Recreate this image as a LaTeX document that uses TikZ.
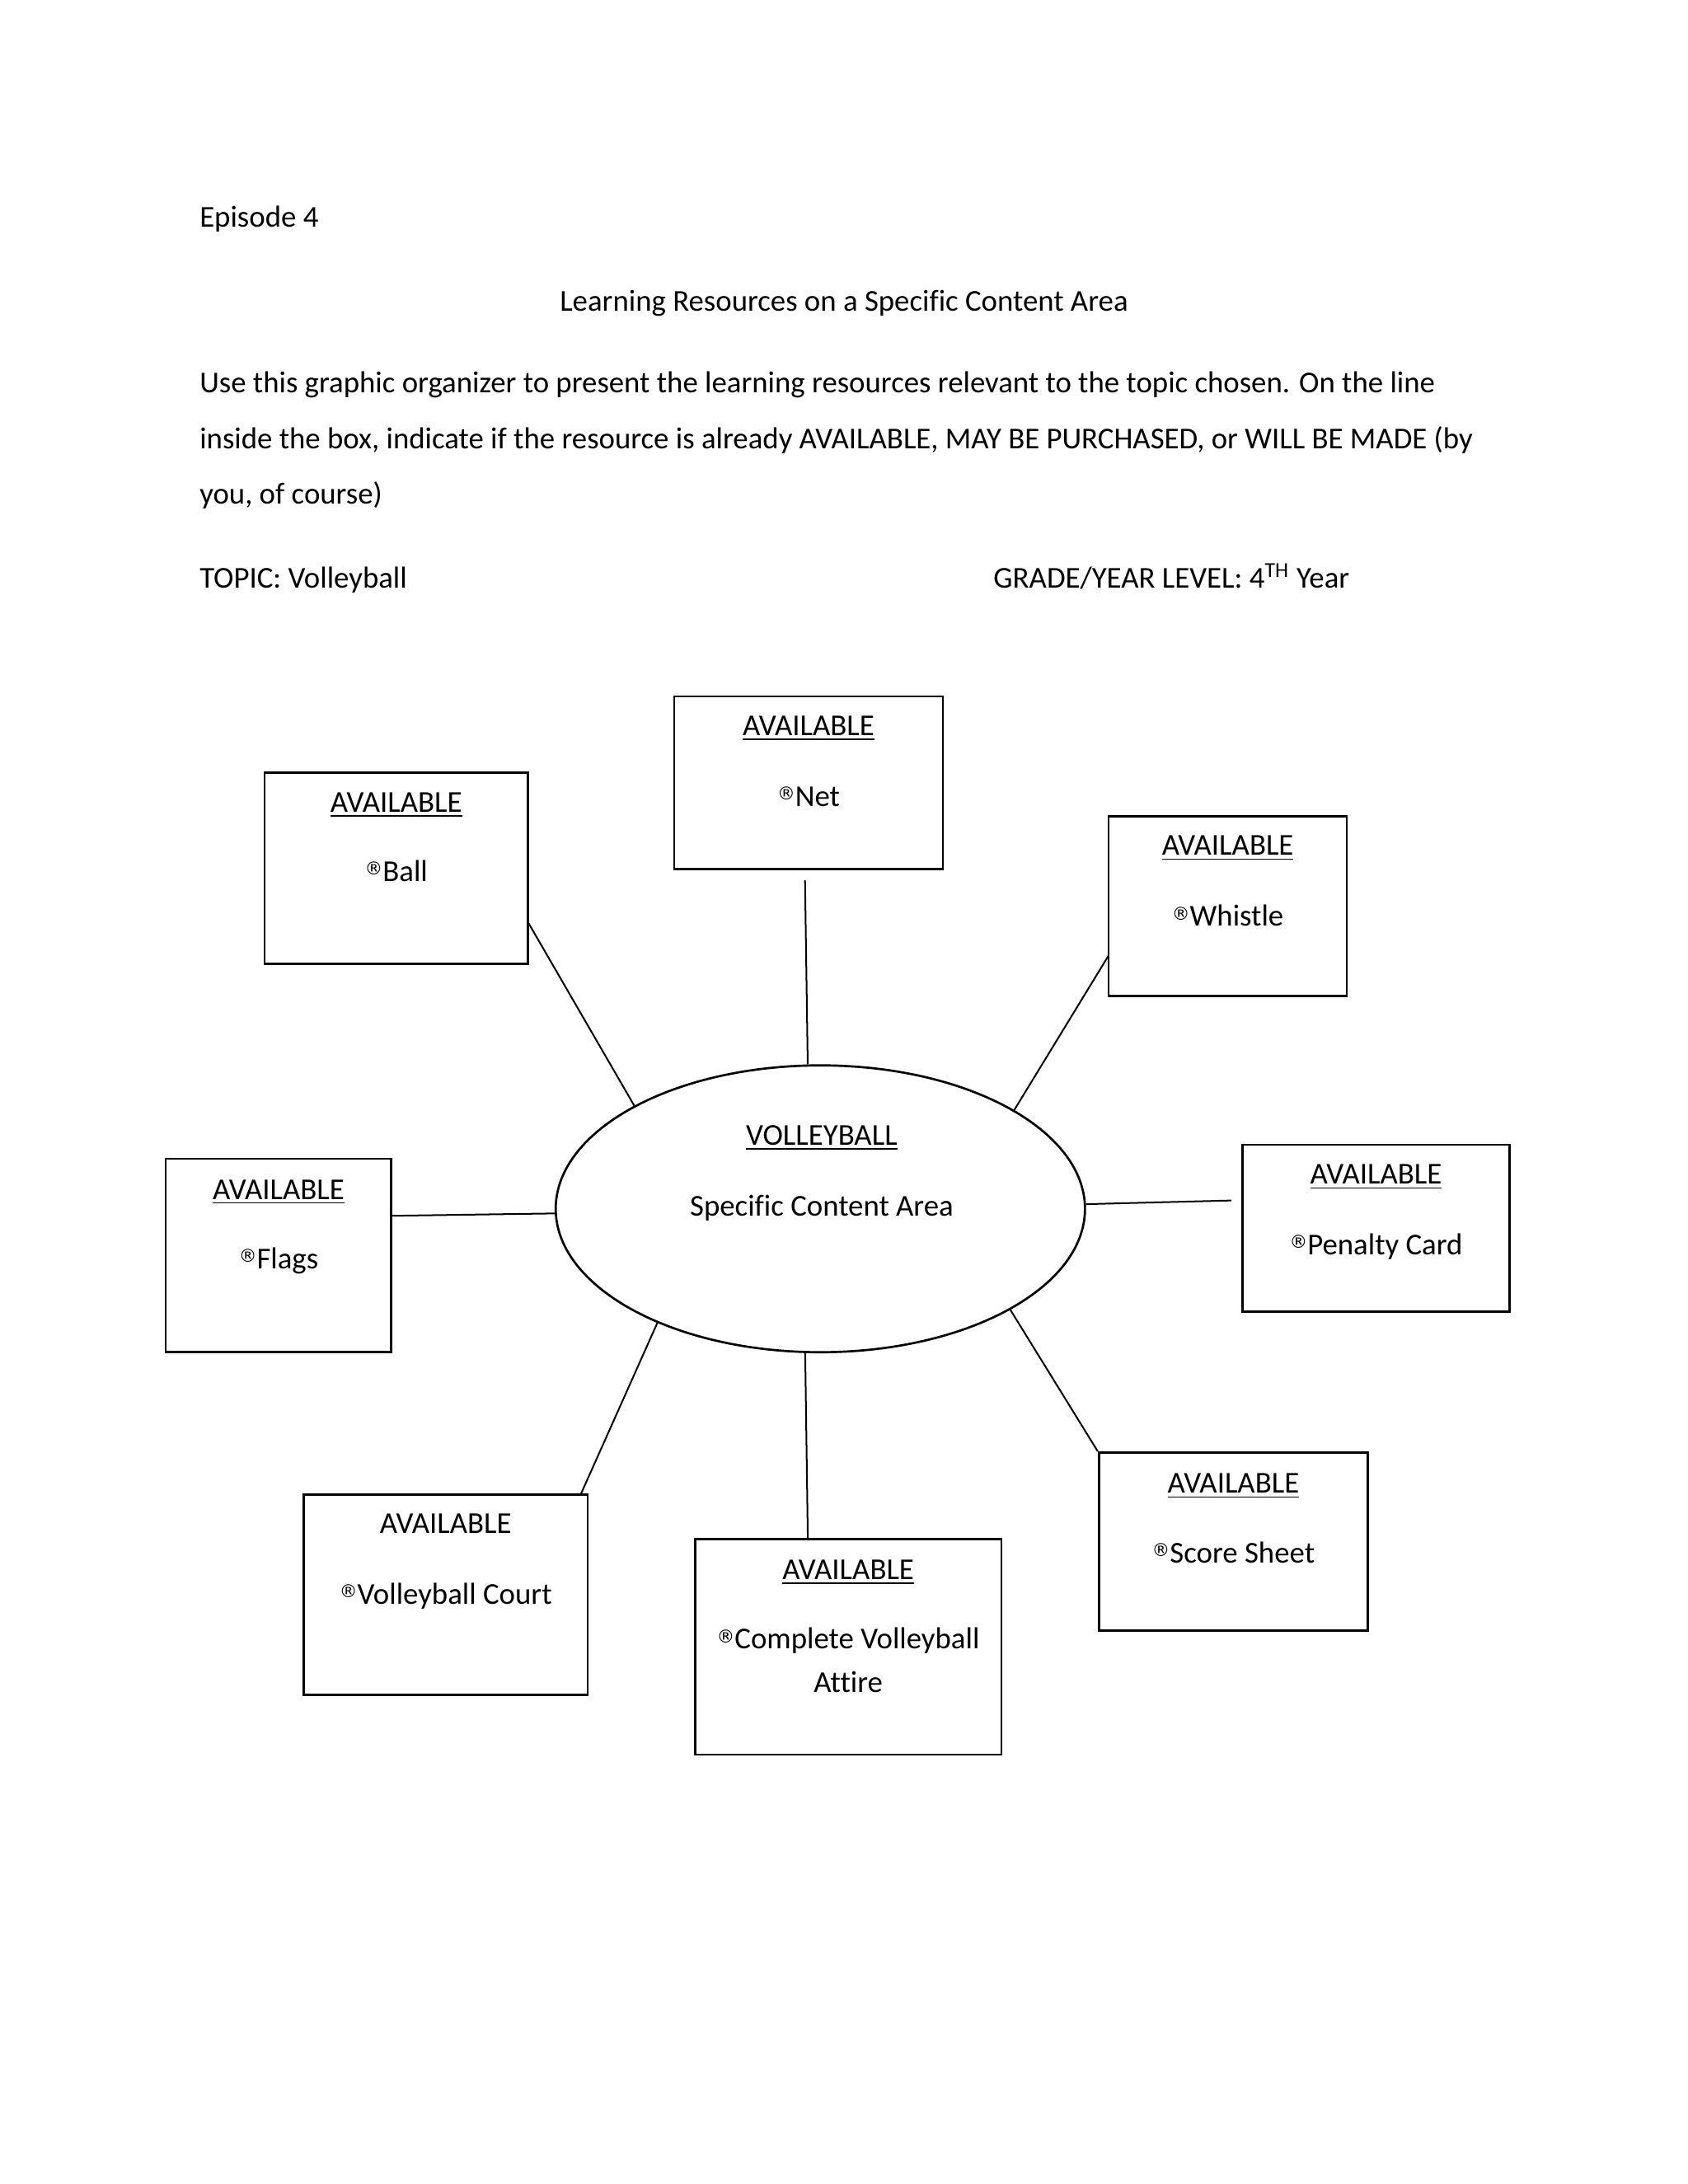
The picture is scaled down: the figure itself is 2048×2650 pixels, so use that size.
\documentclass[tikz,border=0pt]{standalone}
\usepackage{fontspec}
\setmainfont[Ligatures=NoCommon]{Carlito}
\newfontfamily\symfam{DejaVu Sans}
\usetikzlibrary{shapes.geometric,fit}
\newcommand{\regmk}{\raisebox{0.45ex}{\symfam\fontsize{6.5}{6.5}\selectfont ®}}
\begin{document}
\begin{tikzpicture}[x=0.29883pt,y=-0.29883pt,
  txt/.style={font=\fontsize{11}{13}\selectfont, inner sep=0pt},
  box/.style={draw, line width=0.8pt, inner sep=0pt},
  conn/.style={line width=0.6pt}]
\useasboundingbox (0,0) rectangle (2048,2650);
% header text
\node[txt, anchor=base west] (ep) at (241.6,275.6) {Episode 4};
\node[txt, anchor=base] (title) at (1024,377) {Learning Resources on a Specific Content Area};
\node[txt, anchor=base west] (p1) at (241.6,476.7) {Use this graphic organizer to present the learning resources relevant to the topic chosen. On the line};
\node[txt, anchor=base west] (p2) at (241.6,544.3) {inside the box, indicate if the resource is already AVAILABLE, MAY BE PURCHASED, or WILL BE MADE (by};
\node[txt, anchor=base west] (p3) at (241.6,611.9) {you, of course)};
\node[txt, anchor=base west] (topic) at (241.6,713.3) {TOPIC: Volleyball};
\node[txt, anchor=base west] (grade) at (1204.8,713.3) {GRADE/YEAR LEVEL: 4\textsuperscript{TH} Year};
% centre
\node[draw, ellipse, line width=0.8pt, inner sep=0pt, minimum width=191.9pt, minimum height=104pt] (e) at (995.3,1466.7) {};
\node[txt, anchor=base] (eh) at (997,1389.2) {\underline{VOLLEYBALL}};
\node[txt, anchor=base] (et) at (997,1475.4) {Specific Content Area};
% boxes
\node[box, fit={(817.9,844.9) (1144.0,1054.4)}] (net) {};
\node[box, fit={(321.1,937.8) (640.4,1169.3)}] (ball) {};
\node[box, fit={(1345.1,990.2) (1634.0,1208.2)}] (whistle) {};
\node[box, fit={(201.1,1405.9) (474.8,1640.8)}] (flags) {};
\node[box, fit={(1507.3,1389.0) (1831.7,1591.8)}] (penalty) {};
\node[box, fit={(368.4,1813.2) (713.1,2056.5)}] (court) {};
\node[box, fit={(843.2,1867.2) (1215.0,2129.1)}] (attire) {};
\node[box, fit={(1333.3,1762.5) (1659.4,1978.7)}] (score) {};
% box texts
\node[txt, anchor=base] (neta) at (981,892.4) {\underline{AVAILABLE}};
\node[txt, anchor=base] (netb) at (981,978.6) {\regmk Net};
\node[txt, anchor=base] (balla) at (480.75,985.3) {\underline{AVAILABLE}};
\node[txt, anchor=base] (ballb) at (480.75,1069.8) {\regmk Ball};
\node[txt, anchor=base] (whista) at (1489.6,1037.7) {\underline{AVAILABLE}};
\node[txt, anchor=base] (whistb) at (1489.6,1123.9) {\regmk Whistle};
\node[txt, anchor=base] (flagsa) at (338,1455.1) {\underline{AVAILABLE}};
\node[txt, anchor=base] (flagsb) at (338,1539.6) {\regmk Flags};
\node[txt, anchor=base] (pena) at (1669.5,1436.5) {\underline{AVAILABLE}};
\node[txt, anchor=base] (penb) at (1669.5,1522.7) {\regmk Penalty Card};
\node[txt, anchor=base] (courta) at (540.8,1860.6) {AVAILABLE};
\node[txt, anchor=base] (courtb) at (540.8,1946.8) {\regmk Volleyball Court};
\node[txt, anchor=base] (attirea) at (1029.1,1916.4) {\underline{AVAILABLE}};
\node[txt, anchor=base] (attireb) at (1029.1,2000.9) {\regmk Complete Volleyball};
\node[txt, anchor=base] (attirec) at (1029.1,2053.3) {Attire};
\node[txt, anchor=base] (scorea) at (1496.4,1811.6) {\underline{AVAILABLE}};
\node[txt, anchor=base] (scoreb) at (1496.4,1896.1) {\regmk Score Sheet};
% connector end points
\coordinate (netc) at (976.7,1068.0);
\coordinate (ballc) at (640.4,1118.6);
\coordinate (whistc) at (1345.1,1159.2);
\coordinate (flagsc) at (474.8,1475.2);
\coordinate (penc) at (1493.8,1456.6);
\coordinate (courtc) at (704.6,1813.2);
\coordinate (attirept) at (980.1,1867.2);
% connectors
\draw[conn] (netc) -- (e.95.5);
\draw[conn] (ballc) -- (e.151.5);
\draw[conn] (whistc) -- (e.27.9);
\draw[conn] (flagsc) -- (e.181.5);
\draw[conn] (e.1.8) -- (penc);
\draw[conn] (courtc) -- (e.215.5);
\draw[conn] (attirept) -- (e.264.5);
\draw[conn] (score.north west) -- (e.332.5);
\end{tikzpicture}
\end{document}
